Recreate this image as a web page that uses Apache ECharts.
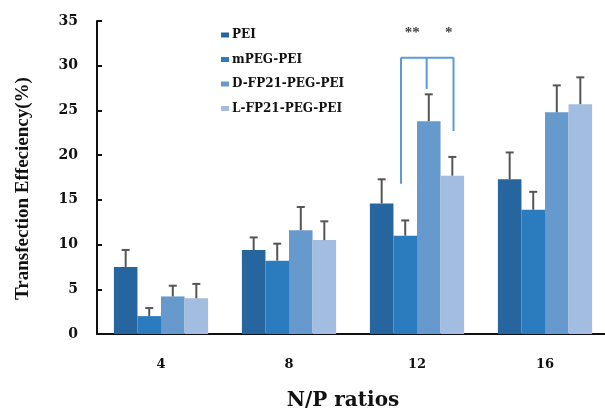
<!DOCTYPE html>
<html>
<head>
<meta charset="utf-8">
<script src="https://cdn.jsdelivr.net/npm/echarts@6/dist/echarts.min.js"></script>
<style>
html,body{margin:0;padding:0;background:#fff;}
#chart{width:605px;height:411px;}
</style>
</head>
<body>
<div id="chart"></div>
<script>
const categories = ['4', '8', '12', '16'];
const seriesNames = ['PEI', 'mPEG-PEI', 'D-FP21-PEG-PEI', 'L-FP21-PEG-PEI'];
const PEI = [7.5, 9.4, 14.6, 17.3];
const mPEG_PEI = [2.0, 8.2, 11.0, 13.9];
const D_FP21 = [4.2, 11.6, 23.8, 24.8];
const L_FP21 = [4.0, 10.5, 17.7, 25.7];
// upper ends of the error bars
const PEI_err = [9.4, 10.8, 17.3, 20.3];
const mPEG_PEI_err = [2.9, 10.1, 12.7, 15.9];
const D_FP21_err = [5.4, 14.2, 26.8, 27.8];
const L_FP21_err = [5.6, 12.6, 19.8, 28.7];
const yTicks = [0, 5, 10, 15, 20, 25, 30, 35];
// significance annotation at N/P = 12
const sigCategory = 2;
const sigTop = 30.9;
const sigLegs = [16.8, 27.4, 22.7];
const sigStars = ['**', '*'];
const sigStarY = 33.6;

const values = [PEI, mPEG_PEI, D_FP21, L_FP21];
const errs = [PEI_err, mPEG_PEI_err, D_FP21_err, L_FP21_err];
const colors = ['#26659e', '#2b7bbf', '#6699cc', '#a3bde0'];
const barFrac = 0.184;
const serif = '"Liberation Serif","DejaVu Serif",serif';
const wide = '"DejaVu Serif","Liberation Serif",serif';

const series = [];
values.forEach((v, i) => {
  series.push({
    name: seriesNames[i], type: 'bar', data: v,
    barWidth: (barFrac * 100) + '%', barGap: '0%',
    itemStyle: { color: colors[i] }
  });
});
values.forEach((v, i) => {
  series.push({
    type: 'custom', z: 3,
    data: v.map((val, k) => [k, val, errs[i][k]]),
    renderItem: function (params, api) {
      const cw = api.size([1, 0])[0];
      const bw = cw * barFrac;
      const off = (i - 1.5) * bw;
      const p0 = api.coord([api.value(0), api.value(1)]);
      const p1 = api.coord([api.value(0), api.value(2)]);
      const x = p0[0] + off;
      const st = { stroke: '#555', lineWidth: 2 };
      return { type: 'group', children: [
        { type: 'line', shape: { x1: x, y1: p0[1], x2: x, y2: p1[1] }, style: st },
        { type: 'line', shape: { x1: x - 4, y1: p1[1], x2: x + 4, y2: p1[1] }, style: st }
      ]};
    }
  });
});
series.push({
  type: 'custom', z: 4,
  data: [[sigCategory, sigTop]],
  renderItem: function (params, api) {
    const cw = api.size([1, 0])[0];
    const bw = cw * barFrac;
    const c = api.coord([api.value(0), api.value(1)]);
    const xs = [c[0] - 0.68 * bw, c[0] + 0.41 * bw, c[0] + 1.55 * bw];
    const st = { stroke: '#5b9bd5', lineWidth: 2, fill: null };
    const ch = [{ type: 'line', shape: { x1: xs[0], y1: c[1], x2: xs[2], y2: c[1] }, style: st }];
    xs.forEach((x, k) => {
      const yb = api.coord([sigCategory, sigLegs[k]])[1];
      ch.push({ type: 'line', shape: { x1: x, y1: c[1], x2: x, y2: yb }, style: st });
    });
    const sy = api.coord([sigCategory, sigStarY])[1];
    ch.push({ type: 'text', style: { text: sigStars[0], x: c[0] - 0.2 * bw, y: sy, align: 'center', verticalAlign: 'middle', font: 'bold 15px ' + serif, fill: '#444' } });
    ch.push({ type: 'text', style: { text: sigStars[1], x: c[0] + 1.35 * bw, y: sy, align: 'center', verticalAlign: 'middle', font: 'bold 15px ' + serif, fill: '#444' } });
    return { type: 'group', children: ch };
  }
});

const chart = echarts.init(document.getElementById('chart'), null, { renderer: 'canvas' });
chart.setOption({
  animation: false,
  backgroundColor: '#fff',
  grid: { left: 97, right: -4, top: 21, bottom: 77, containLabel: false, outerBoundsMode: 'none' },
  legend: {
    data: seriesNames, orient: 'vertical', left: 221, top: 28, padding: 0,
    itemWidth: 8, itemHeight: 5, itemGap: 10.5, icon: 'rect',
    textStyle: { fontFamily: wide, fontWeight: 'bold', fontSize: 12, lineHeight: 14, color: '#111', padding: [0, 0, 0, -2] }
  },
  xAxis: {
    type: 'category', data: categories,
    name: 'N/P ratios', nameLocation: 'middle', nameGap: 57,
    nameTextStyle: { fontFamily: wide, fontWeight: 'bold', fontSize: 20, color: '#111', padding: [0, 20, 0, 0] },
    axisLine: { lineStyle: { color: '#111', width: 2 } },
    axisTick: { inside: true, length: 4, lineStyle: { color: '#111', width: 2 } },
    axisLabel: { margin: 24, fontFamily: wide, fontWeight: 'bold', fontSize: 13, color: '#111' }
  },
  yAxis: {
    type: 'value', min: yTicks[0], max: yTicks[yTicks.length - 1], interval: 5,
    name: 'Transfection Effeciency(%)', nameLocation: 'middle', nameGap: 64,
    nameTextStyle: { fontFamily: serif, fontWeight: 'bold', fontSize: 19, color: '#111', padding: [0, 22, 0, 0] },
    axisLine: { show: true, lineStyle: { color: '#111', width: 2 } },
    axisTick: { show: true, inside: true, length: 5, lineStyle: { color: '#111', width: 2 } },
    splitLine: { show: false },
    axisLabel: { margin: 19, fontFamily: wide, fontWeight: 'bold', fontSize: 14, color: '#111' }
  },
  series: series
});
</script>
</body>
</html>
